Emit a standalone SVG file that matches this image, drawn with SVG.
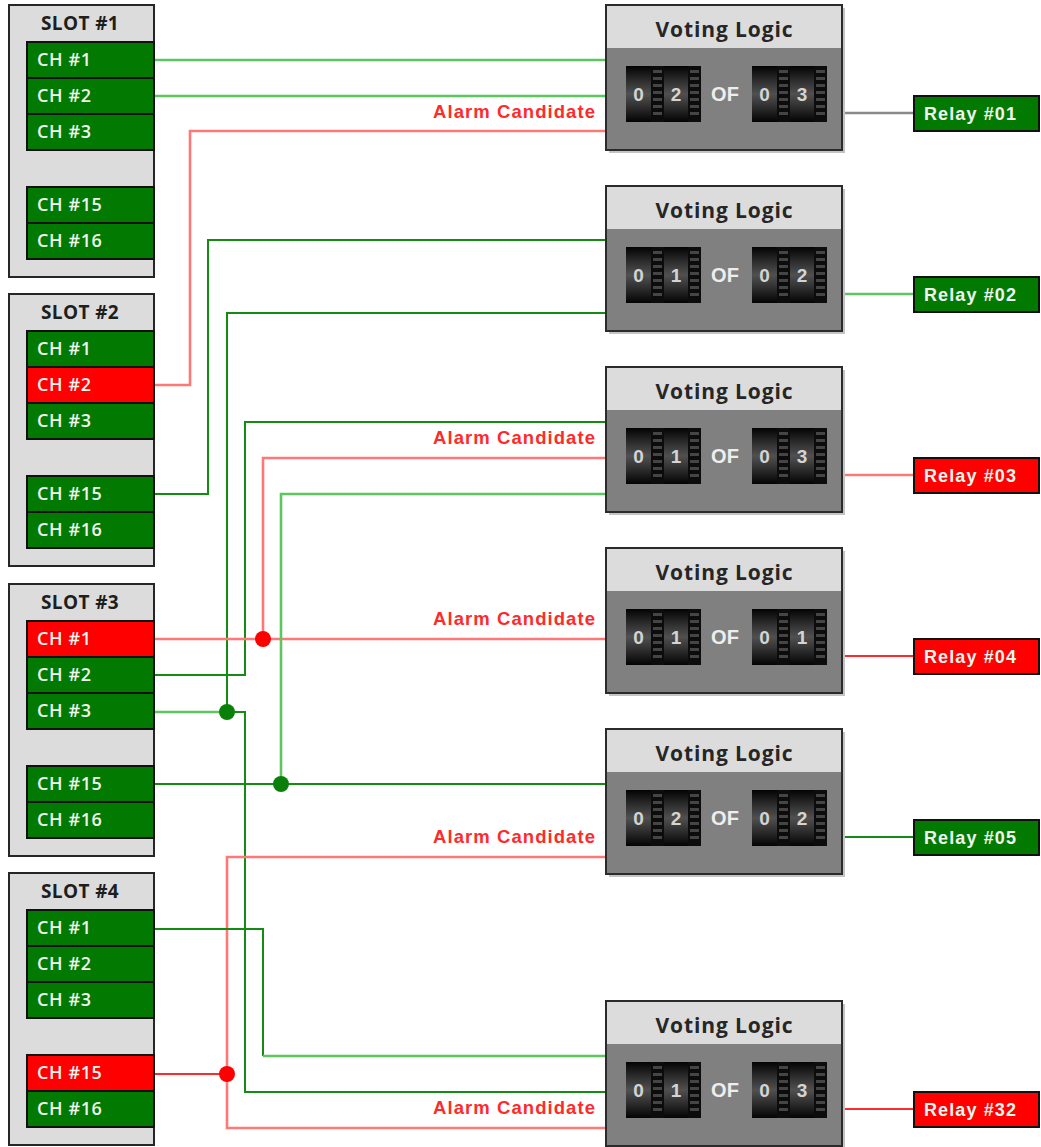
<svg xmlns="http://www.w3.org/2000/svg" xmlns:xlink="http://www.w3.org/1999/xlink" width="1041" height="1147" viewBox="0 0 1041 1147">
<defs>
<style>
.slot{fill:#dcdcdc;stroke:#262626;stroke-width:2}
.ch{stroke:#111;stroke-width:2}
.ok{fill:#027a02}
.al{fill:#ff0000}
.chT{font-family:"Open Sans","Liberation Sans",sans-serif;font-size:18px;font-weight:600;fill:#eef6ee;letter-spacing:0.6px}
.slotT{font-family:"Open Sans","Liberation Sans",sans-serif;font-size:19px;font-weight:700;fill:#1e1e1e;text-anchor:middle;letter-spacing:0.4px}
.vlT{font-family:"Open Sans","Liberation Sans",sans-serif;font-size:21px;font-weight:700;fill:#262626;text-anchor:middle}
.dig{font-family:"Liberation Sans",sans-serif;font-size:19px;font-weight:700;fill:#d4d4d4;text-anchor:middle}
.of{font-family:"Liberation Sans",sans-serif;font-size:20px;font-weight:700;fill:#eeeeee;text-anchor:middle}
.acT{font-family:"Liberation Sans",sans-serif;font-size:18.5px;font-weight:700;fill:#ff2a2a;text-anchor:end}
.rlT{font-family:"Liberation Sans",sans-serif;font-size:18px;font-weight:700;fill:#eef6ee}
.relay{stroke:#111;stroke-width:2}
.w{fill:none}
.gd{stroke:#128c12;stroke-width:2}
.gl{stroke:#5ec65e;stroke-width:2.6}
.rd{stroke:#ff2a2a;stroke-width:2}
.rl{stroke:#ff7878;stroke-width:2.6}
.gy{stroke:#8a8a8a;stroke-width:2.6}
.dr{fill:#ff0000}
.dg{fill:#0a800a}
</style>
<linearGradient id="drum" x1="0" y1="0" x2="0" y2="1">
<stop offset="0" stop-color="#030303"/>
<stop offset="0.3" stop-color="#333"/>
<stop offset="0.5" stop-color="#505050"/>
<stop offset="0.7" stop-color="#333"/>
<stop offset="1" stop-color="#030303"/>
</linearGradient>
<g id="ticks">
<rect x="0" y="0" width="13" height="56" fill="#0c0c0c"/>
<rect x="2" y="4" width="9" height="3" fill="#454545"/>
<rect x="2" y="11" width="9" height="3" fill="#454545"/>
<rect x="2" y="18" width="9" height="3" fill="#454545"/>
<rect x="2" y="25" width="9" height="3" fill="#454545"/>
<rect x="2" y="32" width="9" height="3" fill="#454545"/>
<rect x="2" y="39" width="9" height="3" fill="#454545"/>
<rect x="2" y="46" width="9" height="3" fill="#454545"/>
</g>
<g id="counter">
<rect x="0" y="0" width="74" height="56" fill="#080808"/>
<rect x="0" y="0" width="25" height="56" fill="url(#drum)"/>
<use xlink:href="#ticks" x="25" y="0"/>
<rect x="38" y="0" width="24" height="56" fill="url(#drum)"/>
<use xlink:href="#ticks" x="62" y="0"/>
</g>
<g id="vbox">
<rect x="3" y="3" width="236" height="145" fill="#c4c4c4"/>
<rect x="0" y="0" width="236" height="145" fill="#808080" stroke="#2b2b2b" stroke-width="2"/>
<rect x="1" y="1" width="234" height="42" fill="#dcdcdc"/>
<use xlink:href="#counter" x="20" y="61"/>
<use xlink:href="#counter" x="146" y="61"/>
</g>
</defs>
<rect width="1041" height="1147" fill="#ffffff"/>

<g id="connectors">
<path class="w gl" d="M154,60 H606"/>
<path class="w gl" d="M154,96 H606"/>
<path class="w rl" d="M154,385 H190 V131 H606"/>
<path class="w gd" d="M154,494 H208 V240 H606"/>
<path class="w gd" d="M227,712 V313 H606"/>
<path class="w gl" d="M154,712 H227"/>
<path class="w gd" d="M227,712 H245 V1092 H606"/>
<path class="w gd" d="M154,675 H245 V422 H606"/>
<path class="w rl" d="M154,639 H606"/>
<path class="w rl" d="M263,639 V458 H606"/>
<path class="w gd" d="M154,784 H606"/>
<path class="w gl" d="M281,784 V494 H606"/>
<path class="w rd" d="M154,1074 H227"/>
<path class="w rl" d="M606,857 H227 V1128 H606"/>
<path class="w gd" d="M154,929 H263 V1056"/>
<path class="w gl" d="M263,1056 H606"/>
<path class="w gy" d="M842,113 H914"/>
<path class="w gl" d="M842,294 H914"/>
<path class="w rl" d="M842,475 H914"/>
<path class="w rd" d="M842,656 H914"/>
<path class="w gd" d="M842,837 H914"/>
<path class="w rd" d="M842,1109 H914"/>
<circle class="dr" cx="263" cy="639" r="8"/>
<circle class="dg" cx="227" cy="712" r="8"/>
<circle class="dg" cx="281" cy="784" r="8"/>
<circle class="dr" cx="227" cy="1074" r="8"/>
<text class="acT" x="595" y="118" textLength="162" lengthAdjust="spacing">Alarm Candidate</text>
<text class="acT" x="595" y="444" textLength="162" lengthAdjust="spacing">Alarm Candidate</text>
<text class="acT" x="595" y="625" textLength="162" lengthAdjust="spacing">Alarm Candidate</text>
<text class="acT" x="595" y="843" textLength="162" lengthAdjust="spacing">Alarm Candidate</text>
<text class="acT" x="595" y="1114" textLength="162" lengthAdjust="spacing">Alarm Candidate</text>
</g>

<g id="slot1" transform="translate(9,5)">
<rect class="slot" x="0" y="0" width="145" height="272"/>
<text class="slotT" x="71" y="25">SLOT #1</text>
<g id="s1-ch1"><rect class="ch ok" x="18" y="37" width="127" height="36"/><text class="chT" x="28" y="61">CH #1</text></g>
<g id="s1-ch2"><rect class="ch ok" x="18" y="73" width="127" height="36"/><text class="chT" x="28" y="97">CH #2</text></g>
<g id="s1-ch3"><rect class="ch ok" x="18" y="109" width="127" height="36"/><text class="chT" x="28" y="133">CH #3</text></g>
<g id="s1-ch15"><rect class="ch ok" x="18" y="182" width="127" height="36"/><text class="chT" x="28" y="206">CH #15</text></g>
<g id="s1-ch16"><rect class="ch ok" x="18" y="218" width="127" height="36"/><text class="chT" x="28" y="242">CH #16</text></g>
</g>

<g id="slot2" transform="translate(9,294)">
<rect class="slot" x="0" y="0" width="145" height="272"/>
<text class="slotT" x="71" y="25">SLOT #2</text>
<g id="s2-ch1"><rect class="ch ok" x="18" y="37" width="127" height="36"/><text class="chT" x="28" y="61">CH #1</text></g>
<g id="s2-ch2"><rect class="ch al" x="18" y="73" width="127" height="36"/><text class="chT" x="28" y="97">CH #2</text></g>
<g id="s2-ch3"><rect class="ch ok" x="18" y="109" width="127" height="36"/><text class="chT" x="28" y="133">CH #3</text></g>
<g id="s2-ch15"><rect class="ch ok" x="18" y="182" width="127" height="36"/><text class="chT" x="28" y="206">CH #15</text></g>
<g id="s2-ch16"><rect class="ch ok" x="18" y="218" width="127" height="36"/><text class="chT" x="28" y="242">CH #16</text></g>
</g>

<g id="slot3" transform="translate(9,584)">
<rect class="slot" x="0" y="0" width="145" height="272"/>
<text class="slotT" x="71" y="25">SLOT #3</text>
<g id="s3-ch1"><rect class="ch al" x="18" y="37" width="127" height="36"/><text class="chT" x="28" y="61">CH #1</text></g>
<g id="s3-ch2"><rect class="ch ok" x="18" y="73" width="127" height="36"/><text class="chT" x="28" y="97">CH #2</text></g>
<g id="s3-ch3"><rect class="ch ok" x="18" y="109" width="127" height="36"/><text class="chT" x="28" y="133">CH #3</text></g>
<g id="s3-ch15"><rect class="ch ok" x="18" y="182" width="127" height="36"/><text class="chT" x="28" y="206">CH #15</text></g>
<g id="s3-ch16"><rect class="ch ok" x="18" y="218" width="127" height="36"/><text class="chT" x="28" y="242">CH #16</text></g>
</g>

<g id="slot4" transform="translate(9,873)">
<rect class="slot" x="0" y="0" width="145" height="272"/>
<text class="slotT" x="71" y="25">SLOT #4</text>
<g id="s4-ch1"><rect class="ch ok" x="18" y="37" width="127" height="36"/><text class="chT" x="28" y="61">CH #1</text></g>
<g id="s4-ch2"><rect class="ch ok" x="18" y="73" width="127" height="36"/><text class="chT" x="28" y="97">CH #2</text></g>
<g id="s4-ch3"><rect class="ch ok" x="18" y="109" width="127" height="36"/><text class="chT" x="28" y="133">CH #3</text></g>
<g id="s4-ch15"><rect class="ch al" x="18" y="182" width="127" height="36"/><text class="chT" x="28" y="206">CH #15</text></g>
<g id="s4-ch16"><rect class="ch ok" x="18" y="218" width="127" height="36"/><text class="chT" x="28" y="242">CH #16</text></g>
</g>

<g id="vote1" transform="translate(606,5)">
<use xlink:href="#vbox"/>
<text class="vlT" x="118" y="32" textLength="137" lengthAdjust="spacing">Voting Logic</text>
<text class="dig" x="32.5" y="96">0</text><text class="dig" x="70" y="96">2</text>
<text class="of" x="119" y="96">OF</text>
<text class="dig" x="158.5" y="96">0</text><text class="dig" x="196" y="96">3</text>
</g>
<g id="vote2" transform="translate(606,186)">
<use xlink:href="#vbox"/>
<text class="vlT" x="118" y="32" textLength="137" lengthAdjust="spacing">Voting Logic</text>
<text class="dig" x="32.5" y="96">0</text><text class="dig" x="70" y="96">1</text>
<text class="of" x="119" y="96">OF</text>
<text class="dig" x="158.5" y="96">0</text><text class="dig" x="196" y="96">2</text>
</g>
<g id="vote3" transform="translate(606,367)">
<use xlink:href="#vbox"/>
<text class="vlT" x="118" y="32" textLength="137" lengthAdjust="spacing">Voting Logic</text>
<text class="dig" x="32.5" y="96">0</text><text class="dig" x="70" y="96">1</text>
<text class="of" x="119" y="96">OF</text>
<text class="dig" x="158.5" y="96">0</text><text class="dig" x="196" y="96">3</text>
</g>
<g id="vote4" transform="translate(606,548)">
<use xlink:href="#vbox"/>
<text class="vlT" x="118" y="32" textLength="137" lengthAdjust="spacing">Voting Logic</text>
<text class="dig" x="32.5" y="96">0</text><text class="dig" x="70" y="96">1</text>
<text class="of" x="119" y="96">OF</text>
<text class="dig" x="158.5" y="96">0</text><text class="dig" x="196" y="96">1</text>
</g>
<g id="vote5" transform="translate(606,729)">
<use xlink:href="#vbox"/>
<text class="vlT" x="118" y="32" textLength="137" lengthAdjust="spacing">Voting Logic</text>
<text class="dig" x="32.5" y="96">0</text><text class="dig" x="70" y="96">2</text>
<text class="of" x="119" y="96">OF</text>
<text class="dig" x="158.5" y="96">0</text><text class="dig" x="196" y="96">2</text>
</g>
<g id="vote32" transform="translate(606,1001)">
<use xlink:href="#vbox"/>
<text class="vlT" x="118" y="32" textLength="137" lengthAdjust="spacing">Voting Logic</text>
<text class="dig" x="32.5" y="96">0</text><text class="dig" x="70" y="96">1</text>
<text class="of" x="119" y="96">OF</text>
<text class="dig" x="158.5" y="96">0</text><text class="dig" x="196" y="96">3</text>
</g>

<g id="relay01"><rect class="relay ok" x="914" y="96" width="125" height="35"/><text class="rlT" x="924" y="120" textLength="92" lengthAdjust="spacing">Relay #01</text></g>
<g id="relay02"><rect class="relay ok" x="914" y="277" width="125" height="35"/><text class="rlT" x="924" y="301" textLength="92" lengthAdjust="spacing">Relay #02</text></g>
<g id="relay03"><rect class="relay al" x="914" y="458" width="125" height="35"/><text class="rlT" x="924" y="482" textLength="92" lengthAdjust="spacing">Relay #03</text></g>
<g id="relay04"><rect class="relay al" x="914" y="639" width="125" height="35"/><text class="rlT" x="924" y="663" textLength="92" lengthAdjust="spacing">Relay #04</text></g>
<g id="relay05"><rect class="relay ok" x="914" y="820" width="125" height="35"/><text class="rlT" x="924" y="844" textLength="92" lengthAdjust="spacing">Relay #05</text></g>
<g id="relay32"><rect class="relay al" x="914" y="1092" width="125" height="35"/><text class="rlT" x="924" y="1116" textLength="92" lengthAdjust="spacing">Relay #32</text></g>
</svg>
